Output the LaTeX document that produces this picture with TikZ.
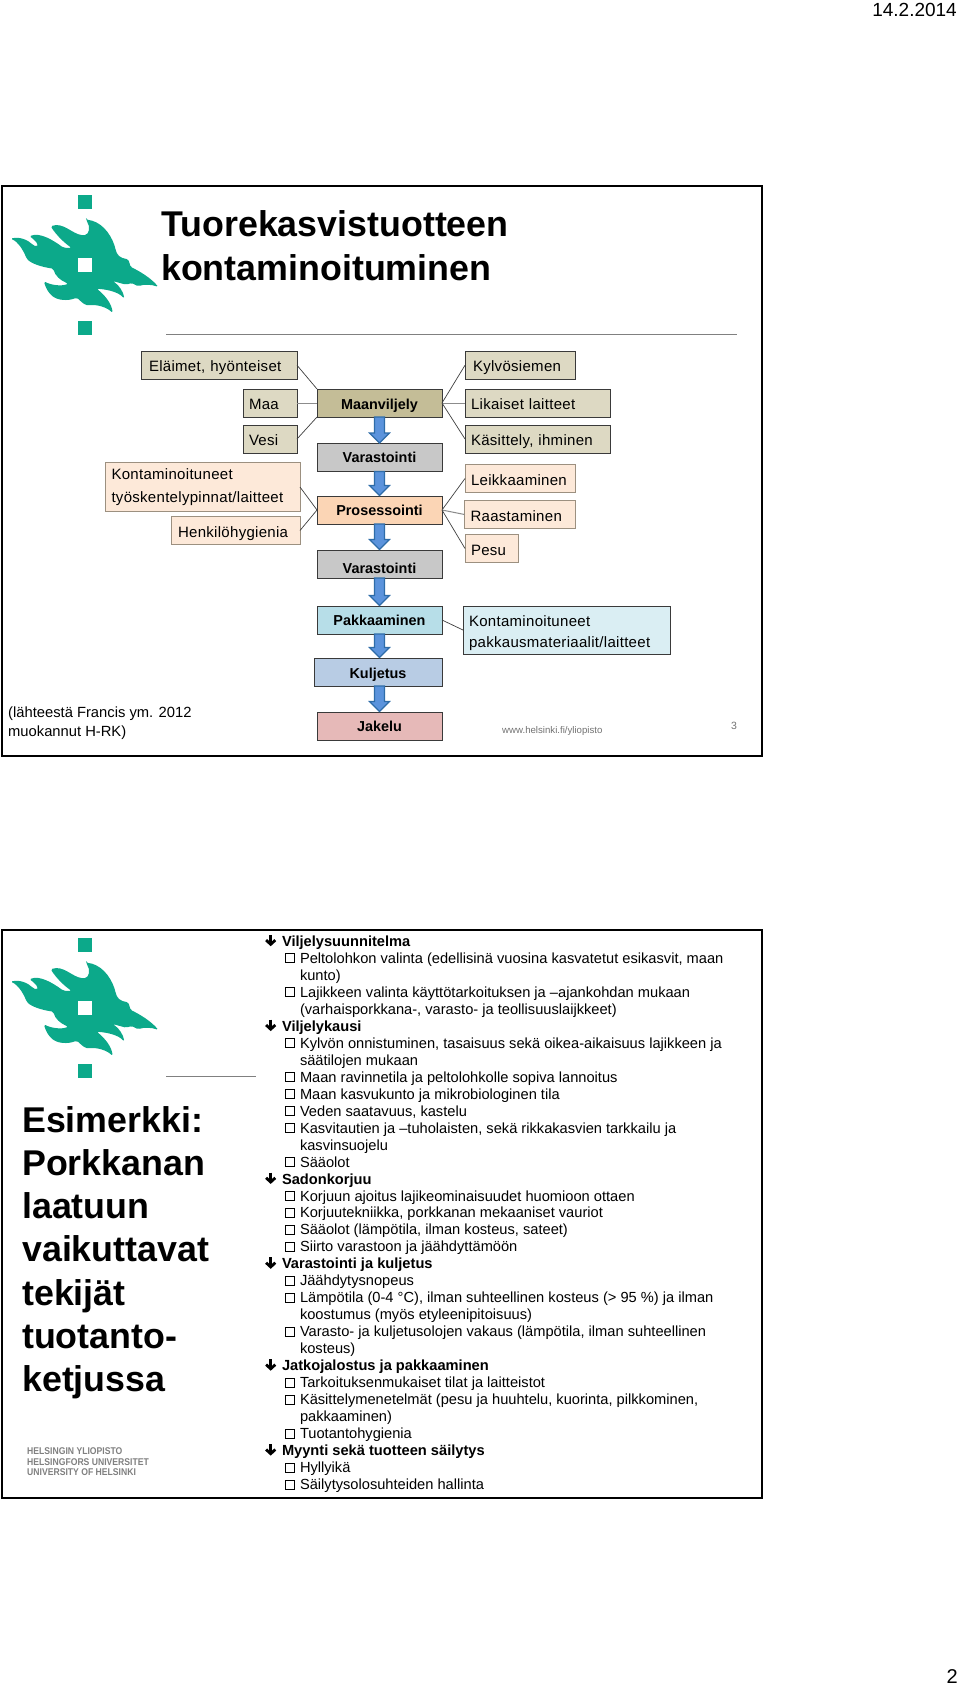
\documentclass[tikz,border=0pt]{standalone}
\usepackage{graphicx}
\usepackage{fontspec}
\setmainfont{Liberation Sans}
\newfontfamily\boxfont[LetterSpace=2]{Liberation Sans}
\usetikzlibrary{calc}
\definecolor{hy}{HTML}{0CA98A}
\definecolor{tanl}{HTML}{DDD9C3}
\definecolor{tanm}{HTML}{C4BD97}
\definecolor{grayb}{HTML}{C8C8C8}
\definecolor{peachl}{HTML}{FDE9D9}
\definecolor{peachm}{HTML}{FBD5B5}
\definecolor{aquam}{HTML}{B7DEE8}
\definecolor{aqual}{HTML}{DAEEF3}
\definecolor{bluem}{HTML}{B8CCE4}
\definecolor{redm}{HTML}{E6B9B8}
\definecolor{arrfill}{HTML}{5B93DC}
\definecolor{arrline}{HTML}{2E6CA8}
\definecolor{edgeb}{HTML}{3A3A3A}
\definecolor{edgep}{HTML}{9C9080}
\tikzset{
  boxbase/.style={rectangle,outer sep=0pt,inner xsep=6pt,inner ysep=0pt,draw=edgeb,line width=0.9pt,anchor=north west,text height=13pt,text depth=0pt},
  leftbox/.style={boxbase,align=left,font=\boxfont\fontsize{15}{22.8}\selectfont},
  twoline/.style={text height=,text depth=},
  centerbox/.style={boxbase,align=center,font=\fontsize{14.4}{20}\selectfont\bfseries},
  peach/.style={fill=peachl,draw=edgep},
  thinline/.style={draw=black!75,line width=0.7pt},
  grayline/.style={draw=black!45,line width=1pt},
  blockarr/.style={fill=arrfill,draw=arrline,line width=1.2pt,line join=miter},
  listtext/.style={anchor=base west,inner sep=0pt,outer sep=0pt,font=\fontsize{14.65}{17}\selectfont},
  heading/.style={listtext,font=\fontsize{14.65}{17}\selectfont\bfseries},
  bigtitle/.style={anchor=base west,inner sep=0pt,font=\fontsize{35.8}{40}\selectfont\bfseries},
  unitext/.style={anchor=west,inner sep=0pt,text=black!50,font=\fontsize{9.8}{11}\selectfont\bfseries},
  frameb/.style={draw=black,line width=2.2pt},
  ruler/.style={draw=black!50,line width=0.5pt}
}
\newcommand{\bx}[7]{\node[#6,minimum width={(#4-#2)*1pt},minimum height={(#5-#3)*1pt},text width={(#4-#2-12)*1pt}] (#1) at (#2,#3) {#7};}
\def\ax{379.5}
\newcommand{\barrow}[2]{\path let \p1=(#1.south),\p2=(#2.north) in
  [blockarr,fill=arrfill,draw=arrline] (\ax pt-5pt,\y1) -- (\ax pt+5pt,\y1) -- (\ax pt+5pt,\y2+10.5pt) -- (\ax pt+10pt,\y2+10.5pt) -- (\ax pt,\y2+0.5pt) -- (\ax pt-10pt,\y2+10.5pt) -- (\ax pt-5pt,\y2+10.5pt) -- cycle;}
\newcommand{\logo}[1]{\begin{scope}[shift={(0,#1)},x=0.33333pt,y=-0.33333pt]
  \fill[hy] (233,55) rectangle (275,97);
  \fill[hy] (233,431) rectangle (275,473);
  \fill[hy,rounded corners=1.6pt] (258,128) .. controls (300,132) and (330,165) .. (345,210)
    .. controls (350,235) and (360,243) .. (385,247) -- (392,270)
    .. controls (420,283) and (455,305) .. (475,330)
    .. controls (455,322) and (430,322) .. (415,328) -- (395,318) -- (378,323)
    -- (338,312) .. controls (358,325) and (370,345) .. (373,365)
    .. controls (355,345) and (325,338) .. (290,335)
    .. controls (315,355) and (335,380) .. (338,408)
    .. controls (320,390) and (290,382) .. (265,385)
    .. controls (250,382) and (240,370) .. (230,362)
    .. controls (205,372) and (170,372) .. (150,350)
    .. controls (140,338) and (135,325) .. (132,313)
    .. controls (155,325) and (185,328) .. (205,320)
    .. controls (180,310) and (165,295) .. (160,275)
    .. controls (125,270) and (95,260) .. (80,245)
    .. controls (70,220) and (55,195) .. (32,185)
    .. controls (60,178) and (85,190) .. (100,205)
    .. controls (108,208) and (113,205) .. (112,200)
    .. controls (105,190) and (95,182) .. (88,178)
    .. controls (120,165) and (160,190) .. (190,212) -- (215,213)
    .. controls (190,195) and (170,175) .. (152,148)
    .. controls (190,135) and (215,170) .. (250,175)
    .. controls (268,172) and (272,150) .. (258,128) -- cycle;
  \fill[white] (233,243) rectangle (275,285);
\end{scope}}
\newcount\lineno
\newcommand{\lineH}[1]{\pgfmathsetmacro{\yy}{941.3+16.98*\the\lineno}
  \coordinate (a\the\lineno) at (270.7,\yy-1);
  \draw[line width=3pt] ($(a\the\lineno)+(0,-5.5)$) -- ($(a\the\lineno)+(0,2)$);
  \draw[line width=2.8pt,line join=miter] ($(a\the\lineno)+(-4.6,-0.2)$) -- ($(a\the\lineno)+(0,4)$) -- ($(a\the\lineno)+(4.6,-0.2)$);
  \node[heading] (t\the\lineno) at (282,\yy+5) {#1};\global\advance\lineno by 1\relax}
\newcommand{\lineB}[1]{\pgfmathsetmacro{\yy}{941.3+16.98*\the\lineno}
  \draw[line width=1pt] (285,\yy-4.5) rectangle (294.5,\yy+4.5);
  \node[listtext] (t\the\lineno) at (300,\yy+5) {#1};\global\advance\lineno by 1\relax}
\newcommand{\lineC}[1]{\pgfmathsetmacro{\yy}{941.3+16.98*\the\lineno}
  \node[listtext] (t\the\lineno) at (300,\yy+5) {#1};\global\advance\lineno by 1\relax}
\begin{document}
\begin{tikzpicture}[x=1pt,y=-1pt]
\useasboundingbox (0,0) rectangle (960,1684);
\fill[white] (0,0) rectangle (960,1684);
\node[anchor=east,inner sep=0pt,font=\fontsize{19}{22}\selectfont] (date) at (957,10) {14.2.2014};
\node[anchor=east,inner sep=0pt,font=\fontsize{20}{24}\selectfont] (page) at (958,1676) {2};
% slide 1
\draw[frameb] (2,186) rectangle (762,756);
\logo{177}
\node[bigtitle] (title1) at (161,236.5) {Tuorekasvistuotteen};
\node[bigtitle] (title2) at (161,280) {kontaminoituminen};
\draw[ruler] (166,334) -- (737,334);
\bx{elain}{141}{351}{297}{379.5}{leftbox,fill=tanl}{\hspace*{2pt}Eläimet, hyönteiset}
\bx{maa}{243}{389}{297}{417}{leftbox,fill=tanl}{Maa}
\bx{vesi}{243}{425}{297}{453}{leftbox,fill=tanl}{Vesi}
\bx{maan}{317}{389}{442}{417}{centerbox,fill=tanm}{Maanviljely}
\bx{var1}{317}{443.5}{442}{471.5}{centerbox,fill=grayb,text height=10pt}{Varastointi}
\bx{kont}{105.5}{462.5}{300}{511.5}{leftbox,twoline,peach}{Kontaminoituneet\\työskentelypinnat/laitteet}
\bx{henk}{171}{516.5}{300}{544.5}{leftbox,peach}{\hspace*{1pt}Henkilöhygienia}
\bx{pros}{317}{496}{442}{524}{centerbox,fill=peachm,text height=10pt}{Prosessointi}
\bx{var2}{317}{550}{442}{578}{centerbox,fill=grayb,text height=19pt}{Varastointi}
\bx{kylvo}{465}{351}{575}{379.5}{leftbox,fill=tanl}{\hspace*{2pt}Kylvösiemen}
\bx{lika}{465}{389}{610}{417}{leftbox,fill=tanl}{Likaiset laitteet}
\bx{kasi}{465}{425}{610}{453}{leftbox,fill=tanl}{Käsittely, ihminen}
\bx{leik}{465}{464.5}{575}{492.5}{leftbox,peach}{Leikkaaminen}
\bx{raas}{464.5}{500.5}{575}{528.5}{leftbox,peach}{Raastaminen}
\bx{pesu}{465}{534.5}{518}{562.5}{leftbox,peach}{Pesu}
\bx{pak}{317}{606}{442}{634}{centerbox,fill=aquam,text height=10pt}{Pakkaaminen}
\bx{kon}{463}{606}{670}{654}{leftbox,twoline,fill=aqual}{\rule{0pt}{17pt}Kontaminoituneet\\[-1.5pt]pakkausmateriaalit/laitteet}
\bx{kul}{314}{658}{442}{686}{centerbox,fill=bluem}{Kuljetus}
\bx{jak}{317}{712}{442}{740}{centerbox,fill=redm,text height=10pt}{Jakelu}
\draw[thinline] (elain.east) -- (maan.north west);
\draw[grayline] (maa.east) -- (maan.west);
\draw[thinline] (vesi.east) -- (maan.south west);
\draw[thinline] (maan.east) -- (kylvo.west);
\draw[grayline] (maan.east) -- (lika.west);
\draw[thinline] (maan.east) -- (kasi.west);
\draw[thinline] (kont.east) -- (pros.west);
\draw[thinline] (henk.east) -- (pros.west);
\draw[thinline] (pros.east) -- (leik.west);
\draw[grayline] (pros.east) -- (raas.west);
\draw[thinline] (pros.east) -- (pesu.west);
\draw[thinline] (pak.east) -- (kon.west);
\barrow{maan}{var1}
\barrow{var1}{pros}
\barrow{pros}{var2}
\barrow{var2}{pak}
\barrow{pak}{kul}
\barrow{kul}{jak}
\node[anchor=north west,inner sep=0pt,align=left,font=\fontsize{14.75}{18.4}\selectfont] (src) at (8,707) {(lähteestä Francis ym. 2012\\muokannut H-RK)};
\node[anchor=west,inner sep=0pt,text=black!55,font=\fontsize{9.65}{12}\selectfont] (www) at (502,731) {www.helsinki.fi/yliopisto};
\node[anchor=west,inner sep=0pt,text=black!55,font=\fontsize{10.5}{12}\selectfont] (num) at (731,726) {3};
% slide 2
\draw[frameb] (2,930) rectangle (762,1498);
\logo{920}
\draw[ruler] (166,1076) -- (256,1076);
\node[bigtitle] (e1) at (22,1132) {Esimerkki:};
\node[bigtitle] (e2) at (22,1175) {Porkkanan};
\node[bigtitle] (e3) at (22,1218) {laatuun};
\node[bigtitle] (e4) at (22,1261) {vaikuttavat};
\node[bigtitle] (e5) at (22,1305) {tekijät};
\node[bigtitle] (e6) at (22,1348) {tuotanto-};
\node[bigtitle] (e7) at (22,1391) {ketjussa};
\node[unitext] (u1) at (27,1450.7) {\scalebox{0.88}[1]{HELSINGIN YLIOPISTO}};
\node[unitext] (u2) at (27,1461.7) {\scalebox{0.88}[1]{HELSINGFORS UNIVERSITET}};
\node[unitext] (u3) at (27,1472.5) {\scalebox{0.88}[1]{UNIVERSITY OF HELSINKI}};
\lineno=0
\lineH{Viljelysuunnitelma}
\lineB{Peltolohkon valinta (edellisinä vuosina kasvatetut esikasvit, maan}
\lineC{kunto)}
\lineB{Lajikkeen valinta käyttötarkoituksen ja –ajankohdan mukaan}
\lineC{(varhaisporkkana-, varasto- ja teollisuuslaijkkeet)}
\lineH{Viljelykausi}
\lineB{Kylvön onnistuminen, tasaisuus sekä oikea-aikaisuus lajikkeen ja}
\lineC{säätilojen mukaan}
\lineB{Maan ravinnetila ja peltolohkolle sopiva lannoitus}
\lineB{Maan kasvukunto ja mikrobiologinen tila}
\lineB{Veden saatavuus, kastelu}
\lineB{Kasvitautien ja –tuholaisten, sekä rikkakasvien tarkkailu ja}
\lineC{kasvinsuojelu}
\lineB{Sääolot}
\lineH{Sadonkorjuu}
\lineB{Korjuun ajoitus lajikeominaisuudet huomioon ottaen}
\lineB{Korjuutekniikka, porkkanan mekaaniset vauriot}
\lineB{Sääolot (lämpötila, ilman kosteus, sateet)}
\lineB{Siirto varastoon ja jäähdyttämöön}
\lineH{Varastointi ja kuljetus}
\lineB{Jäähdytysnopeus}
\lineB{Lämpötila (0-4 °C), ilman suhteellinen kosteus (> 95 \%) ja ilman}
\lineC{koostumus (myös etyleenipitoisuus)}
\lineB{Varasto- ja kuljetusolojen vakaus (lämpötila, ilman suhteellinen}
\lineC{kosteus)}
\lineH{Jatkojalostus ja pakkaaminen}
\lineB{Tarkoituksenmukaiset tilat ja laitteistot}
\lineB{Käsittelymenetelmät (pesu ja huuhtelu, kuorinta, pilkkominen,}
\lineC{pakkaaminen)}
\lineB{Tuotantohygienia}
\lineH{Myynti sekä tuotteen säilytys}
\lineB{Hyllyikä}
\lineB{Säilytysolosuhteiden hallinta}
\end{tikzpicture}
\end{document}
